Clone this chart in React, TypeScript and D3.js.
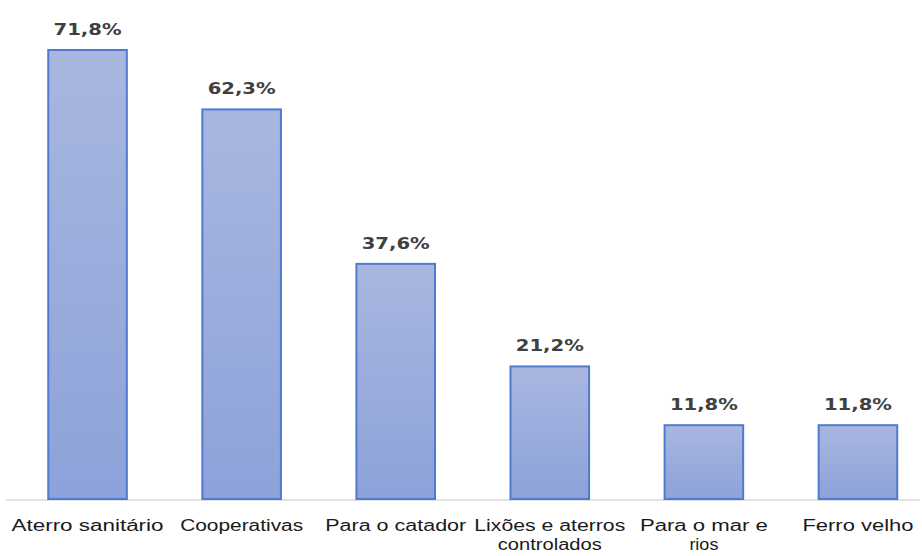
import React from "react";
import * as d3 from "d3";

const categories = ["Aterro sanitário", "Cooperativas", "Para o catador", "Lixões e aterros controlados", "Para o mar e rios", "Ferro velho"];
const values = [71.8, 62.3, 37.6, 21.2, 11.8, 11.8];
const labelLines = [["Aterro sanitário"], ["Cooperativas"], ["Para o catador"], ["Lixões e aterros", "controlados"], ["Para o mar e", "rios"], ["Ferro velho"]];
const labelWidths = [[152], [123], [141], [151, 104], [128, 29], [111]];

export default function App() {
  const W = 922, H = 556;
  const baseY = 499;
  const x = d3.scaleBand<string>().domain(categories).range([10.5, 935]).paddingInner(0.49).paddingOuter(0.245);
  const y = d3.scaleLinear().domain([0, 71.8]).range([baseY, 50]);
  const fmt = (v: number) => v.toFixed(1).replace(".", ",") + "%";
  return (
    <svg width={W} height={H} style={{ position: "absolute", left: 0, top: 0, background: "#fff" }}>
      <defs>
        <linearGradient id="bg" x1="0" y1="0" x2="0" y2="1">
          <stop offset="0" stopColor="#a9b7e0" />
          <stop offset="1" stopColor="#8ca2d9" />
        </linearGradient>
      </defs>
      <line x1={6} x2={920} y1={baseY + 1} y2={baseY + 1} stroke="#d9d9d9" strokeWidth={1.5} />
      {categories.map((c, i) => {
        const bx = x(c)!;
        const bw = x.bandwidth();
        const top = y(values[i]);
        return (
          <g key={c}>
            <rect x={bx} y={top} width={bw} height={baseY - top} fill="url(#bg)" stroke="#4f7ad0" strokeWidth={2} />
            <text x={bx + bw / 2} y={top - 15} textAnchor="middle" fontFamily="DejaVu Sans, sans-serif" fontWeight="bold" fontSize={16} fill="#404040" textLength={68} lengthAdjust="spacingAndGlyphs">{fmt(values[i])}</text>
            {labelLines[i].map((ln, j) => (
              <text key={j} x={bx + bw / 2} y={531 + j * 19} textAnchor="middle" fontFamily="Liberation Sans Narrow, Liberation Sans, sans-serif" fontSize={16} fill="#1a1a1a" textLength={labelWidths[i][j]} lengthAdjust="spacingAndGlyphs">{ln}</text>
            ))}
          </g>
        );
      })}
    </svg>
  );
}
